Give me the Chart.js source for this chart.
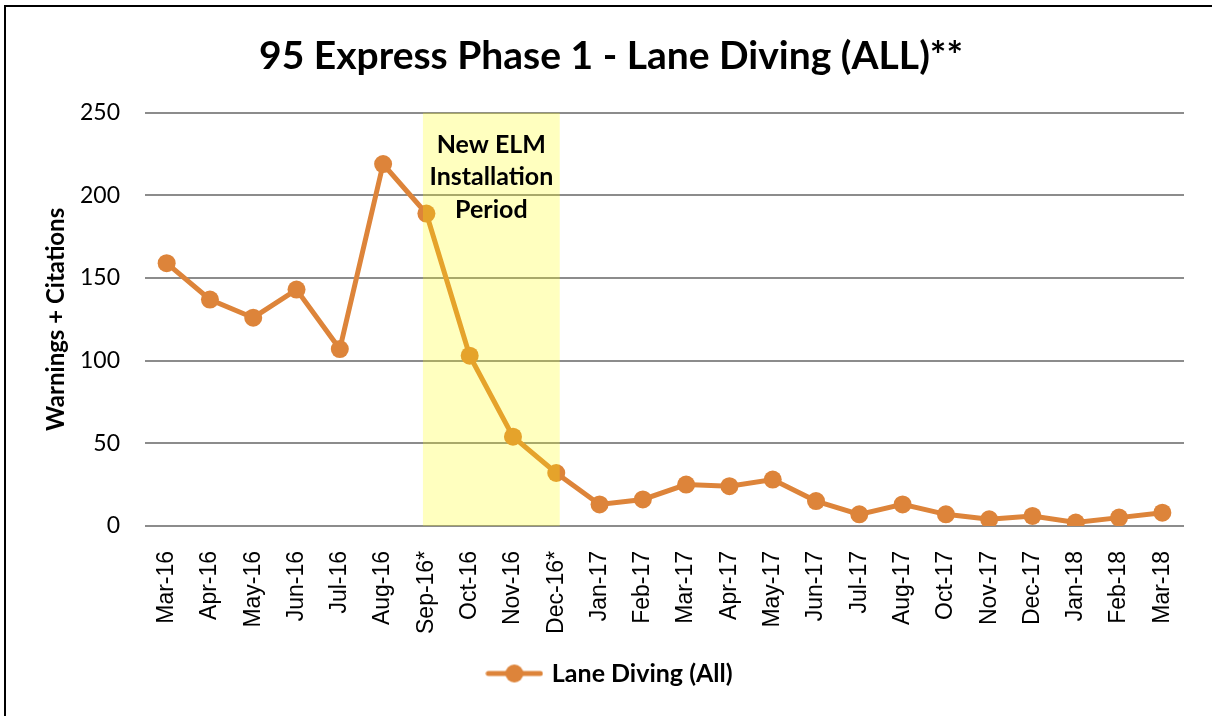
<!DOCTYPE html>
<html>
<head>
<meta charset="utf-8">
<script src="https://cdn.jsdelivr.net/npm/chart.js@4"></script>
<style>
  body { margin: 0; background: #fff; }
  #wrap { position: absolute; left: 4px; top: 5px; right: 0; bottom: 0; border-top: 2px solid #000; border-left: 2px solid #000; }
</style>
</head>
<body>
<div id="wrap"></div>
<canvas id="chart" width="1212" height="716" style="position:absolute;left:0;top:0;"></canvas>
<script>
const months = ['Mar-16', 'Apr-16', 'May-16', 'Jun-16', 'Jul-16', 'Aug-16', 'Sep-16*', 'Oct-16', 'Nov-16', 'Dec-16*',
  'Jan-17', 'Feb-17', 'Mar-17', 'Apr-17', 'May-17', 'Jun-17', 'Jul-17', 'Aug-17', 'Oct-17', 'Nov-17', 'Dec-17',
  'Jan-18', 'Feb-18', 'Mar-18'];
const laneDiving = [159, 137, 126, 143, 107, 219, 189, 103, 54, 32, 13, 16, 25, 24, 28, 15, 7, 13, 7, 4, 6, 2, 5, 8];
const yTicks = [0, 50, 100, 150, 200, 250];
const periodStart = 'Sep-16*';
const periodEnd = 'Dec-16*';
const periodText = ['New ELM', 'Installation', 'Period'];

const orange = '#DD843A';

// legend marker: short line with a dot
const legendIcon = document.createElement('canvas');
legendIcon.width = 58;
legendIcon.height = 20;
(function () {
  const c = legendIcon.getContext('2d');
  c.strokeStyle = orange;
  c.lineWidth = 5;
  c.lineCap = 'round';
  c.beginPath();
  c.moveTo(3, 10);
  c.lineTo(55, 10);
  c.stroke();
  c.fillStyle = orange;
  c.beginPath();
  c.arc(29, 10, 9, 0, Math.PI * 2);
  c.fill();
})();

const periodBox = {
  id: 'periodBox',
  afterDatasetsDraw(chart) {
    const ctx = chart.ctx;
    const x = chart.scales.x;
    const y = chart.scales.y;
    const step = x.getPixelForValue(1) - x.getPixelForValue(0);
    const left = x.getPixelForValue(months.indexOf(periodStart)) - step * 0.08;
    const right = x.getPixelForValue(months.indexOf(periodEnd)) + step * 0.08;
    const top = y.getPixelForValue(250);
    const bottom = y.getPixelForValue(0);
    ctx.save();
    ctx.fillStyle = 'rgba(255, 255, 0, 0.25)';
    ctx.fillRect(left, top, right - left, bottom - top);
    ctx.fillStyle = '#000';
    ctx.font = 'bold 25px Lato, "Open Sans", sans-serif';
    ctx.textAlign = 'center';
    ctx.textBaseline = 'middle';
    const cx = (left + right) / 2;
    periodText.forEach((t, i) => ctx.fillText(t, cx, top + 32 + i * 32.5));
    ctx.restore();
  }
};

new Chart(document.getElementById('chart'), {
  type: 'line',
  data: {
    labels: months,
    datasets: [{
      label: 'Lane Diving (All)',
      data: laneDiving,
      borderColor: orange,
      backgroundColor: orange,
      borderWidth: 5,
      pointRadius: 9,
      pointHoverRadius: 9,
      pointBorderWidth: 0,
      tension: 0
    }]
  },
  options: {
    responsive: false,
    animation: false,
    layout: { padding: { left: 38, right: 28, top: 10, bottom: 20 } },
    plugins: {
      title: {
        display: true,
        text: '95 Express Phase 1 - Lane Diving (ALL)**',
        color: '#000',
        font: { family: 'Lato, "Open Sans", sans-serif', size: 39, weight: 'bold' },
        padding: { top: 23, bottom: 33 }
      },
      legend: {
        position: 'bottom',
        labels: {
          usePointStyle: true,
          pointStyle: legendIcon,
          pointStyleWidth: 50,
          color: '#000',
          font: { family: 'Lato, "Open Sans", sans-serif', size: 25, weight: 'bold' },
          padding: 10
        }
      },
      tooltip: { enabled: false }
    },
    scales: {
      x: {
        offset: true,
        grid: { display: false },
        border: { display: false },
        ticks: {
          color: '#000',
          maxRotation: 90,
          minRotation: 90,
          autoSkip: false,
          padding: 17,
          font: { family: '"Liberation Sans", Arial, sans-serif', size: 23 }
        }
      },
      y: {
        min: 0,
        max: 250,
        afterBuildTicks(axis) { axis.ticks = yTicks.map(v => ({ value: v })); },
        afterFit(axis) { axis.width = 107; },
        grid: { color: '#8c8c8c', lineWidth: 2, drawTicks: false },
        border: { display: false },
        ticks: {
          color: '#000',
          padding: 25,
          font: { family: 'Lato, "Open Sans", sans-serif', size: 23 }
        },
        title: {
          display: true,
          text: 'Warnings + Citations',
          color: '#000',
          font: { family: 'Lato, "Open Sans", sans-serif', size: 24, weight: 'bold' },
          padding: { top: 4, bottom: 4 }
        }
      }
    }
  },
  plugins: [periodBox]
});
</script>
</body>
</html>
